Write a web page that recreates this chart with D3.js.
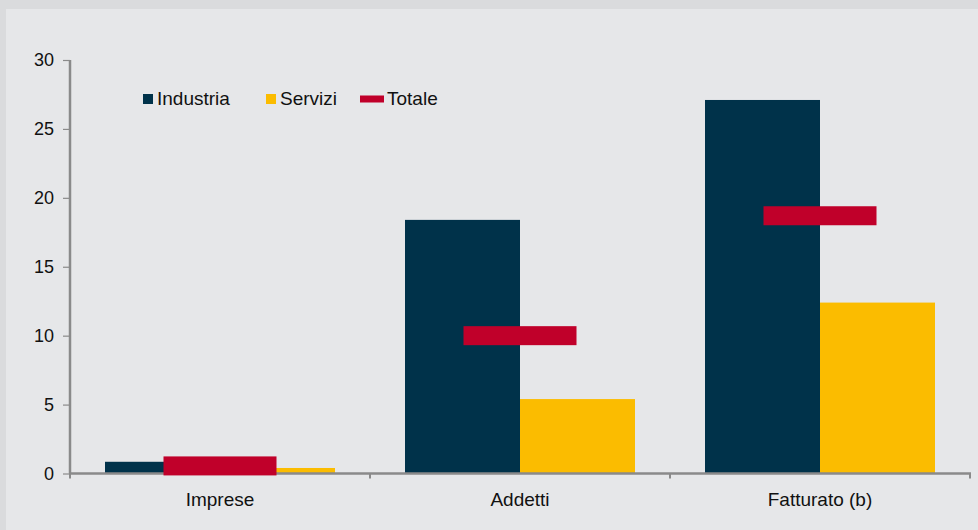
<!DOCTYPE html>
<html>
<head>
<meta charset="utf-8">
<script src="https://cdn.jsdelivr.net/npm/d3@7/dist/d3.min.js"></script>
<style>
  html, body { margin: 0; padding: 0; background: #e6e7e9; }
  svg { display: block; font-family: "Liberation Sans", Arial, sans-serif; }
</style>
</head>
<body>
<svg id="chart" width="978" height="530"></svg>
<script>
const categories = ["Imprese", "Addetti", "Fatturato (b)"];
const industria = [0.85, 18.4, 27.1];
const servizi = [0.4, 5.4, 12.4];
const totale = [0.55, 10.0, 18.7];
const yTicks = [0, 5, 10, 15, 20, 25, 30];
const seriesNames = ["Industria", "Servizi", "Totale"];
const colors = { Industria: "#00324a", Servizi: "#fbbc00", Totale: "#c0002a" };

(function () {
const svg = d3.select("#chart");
const W = 978, H = 530;

// outer frame
svg.append("rect").attr("x", 0).attr("y", 0).attr("width", W).attr("height", H).attr("fill", "#dadbdd");
svg.append("rect").attr("x", 6).attr("y", 9).attr("width", W - 6).attr("height", H - 9).attr("fill", "#e6e7e9");

const mLeft = 70, mRight = 970, mTop = 60, mBottom = 473.5;

const x = d3.scaleBand().domain(categories).range([mLeft, mRight]).paddingInner(0).paddingOuter(0);
const barW = x.bandwidth() * (115 / 300);
const y = d3.scaleLinear().domain([0, 30]).range([mBottom, mTop]);

const g = svg.append("g");

// bars
const barData = [];
categories.forEach((c, i) => {
  barData.push({ cat: c, s: "Industria", v: industria[i], off: -barW });
  barData.push({ cat: c, s: "Servizi", v: servizi[i], off: 0 });
});
g.selectAll("rect.bar").data(barData).enter().append("rect")
  .attr("class", "bar")
  .attr("x", d => x(d.cat) + x.bandwidth() / 2 + d.off)
  .attr("width", barW)
  .attr("y", d => y(d.v))
  .attr("height", d => y(0) - y(d.v))
  .attr("fill", d => colors[d.s]);

const axisColor = "#8a8a8a";

// y axis
const yAxis = g.append("g").attr("transform", `translate(${mLeft},0)`)
  .call(d3.axisLeft(y).tickValues(yTicks).tickSize(7).tickPadding(9));
yAxis.select(".domain").attr("stroke", axisColor).attr("stroke-width", 2.5).attr("d", `M0,${mTop}V${mBottom}`);
yAxis.selectAll(".tick line").attr("stroke", axisColor).attr("stroke-width", 1.2);
yAxis.selectAll(".tick text").attr("fill", "#111").attr("font-size", 18).attr("font-family", "Liberation Sans, Arial, sans-serif");

// x axis
const xAxis = g.append("g").attr("transform", `translate(0,${mBottom})`);
xAxis.append("line").attr("x1", mLeft - 1).attr("x2", mRight + 1).attr("y1", 0).attr("y2", 0)
  .attr("stroke", axisColor).attr("stroke-width", 2.5);
const bounds = categories.map(c => x(c)).concat([x(categories[categories.length - 1]) + x.bandwidth()]);
xAxis.selectAll("line.xt").data(bounds).enter().append("line")
  .attr("class", "xt").attr("x1", d => d).attr("x2", d => d).attr("y1", 0).attr("y2", 5)
  .attr("stroke", axisColor).attr("stroke-width", 2);
xAxis.selectAll("text.xl").data(categories).enter().append("text")
  .attr("class", "xl")
  .attr("x", d => x(d) + x.bandwidth() / 2)
  .attr("y", 32)
  .attr("text-anchor", "middle")
  .attr("font-size", 19)
  .attr("fill", "#111")
  .text(d => d);

// totale markers (drawn over the axis)
const markW = x.bandwidth() * (113 / 300);
const markH = 19;
g.selectAll("rect.tot").data(categories.map((c, i) => ({ cat: c, v: totale[i] }))).enter().append("rect")
  .attr("class", "tot")
  .attr("x", d => x(d.cat) + x.bandwidth() / 2 - markW / 2)
  .attr("width", markW)
  .attr("y", d => y(d.v) - markH / 2)
  .attr("height", markH)
  .attr("fill", colors.Totale);

// legend
const legend = svg.append("g");
const legendItems = [
  { name: seriesNames[0], x: 143, type: "sq" },
  { name: seriesNames[1], x: 266, type: "sq" },
  { name: seriesNames[2], x: 360, type: "line" }
];
legendItems.forEach(it => {
  if (it.type === "sq") {
    legend.append("rect").attr("x", it.x).attr("y", 94).attr("width", 10).attr("height", 10).attr("fill", colors[it.name]);
    legend.append("text").attr("x", it.x + 14).attr("y", 105).attr("font-size", 19).attr("fill", "#111").text(it.name);
  } else {
    legend.append("rect").attr("x", it.x).attr("y", 95.5).attr("width", 24).attr("height", 7).attr("fill", colors[it.name]);
    legend.append("text").attr("x", it.x + 27).attr("y", 105).attr("font-size", 19).attr("fill", "#111").text(it.name);
  }
});
})();
</script>
</body>
</html>
